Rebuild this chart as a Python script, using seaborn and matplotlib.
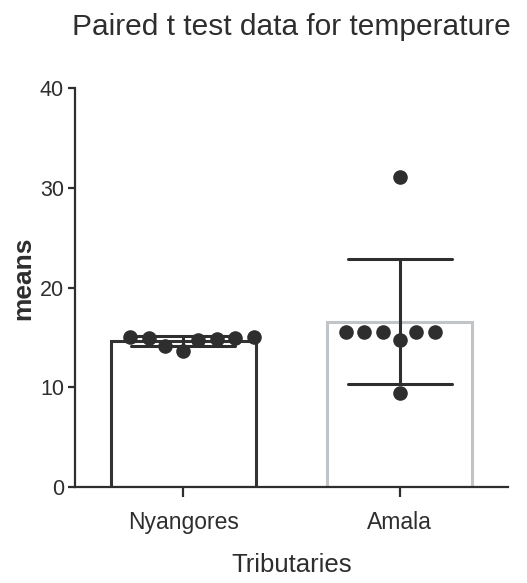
import matplotlib
matplotlib.use("Agg")
import matplotlib.pyplot as plt
import seaborn as sns
import pandas as pd

# values
tributaries = ["Nyangores", "Amala"]
nyangores = [15.0, 14.9, 14.7, 13.6, 14.1, 14.8, 14.9, 15.0]
amala = [31.1, 15.5, 15.5, 15.5, 14.7, 15.5, 15.5, 9.4]
edge_colors = ["#333333", "#c2c5c8"]

df = pd.DataFrame({
    "Tributaries": [tributaries[0]] * len(nyangores) + [tributaries[1]] * len(amala),
    "means": nyangores + amala,
})

sns.set_style("ticks")
plt.rcParams["font.family"] = ["Liberation Sans", "DejaVu Sans"]
ink = "#2e2e2e"

fig = plt.figure(figsize=(5.27, 5.83), dpi=100)
ax = fig.add_axes([0.1423, 0.1647, 0.8217, 0.6843])

sns.barplot(data=df, x="Tributaries", y="means", order=tributaries,
            errorbar="sd", capsize=0.48, width=0.67, color="white",
            err_kws={"linewidth": 2.2, "color": ink}, ax=ax)
for patch, ec in zip(ax.patches, edge_colors):
    patch.set_facecolor("white")
    patch.set_edgecolor(ec)
    patch.set_linewidth(2.2)

# transparent edge only widens the swarm spacing
sns.swarmplot(data=df, x="Tributaries", y="means", order=tributaries,
              color=ink, size=10.5, linewidth=2.3, edgecolor=(0, 0, 0, 0), ax=ax)

ax.set_xlim(-0.5, 1.5)
ax.set_ylim(0, 40)
ax.set_yticks([0, 10, 20, 30, 40])

sns.despine(ax=ax)
for side in ["left", "bottom"]:
    ax.spines[side].set_color(ink)
    ax.spines[side].set_linewidth(1.6)

ax.tick_params(axis="y", length=5, width=1.6, color=ink, labelsize=15.5,
               labelcolor=ink, pad=3)
ax.tick_params(axis="x", length=7, width=1.6, color=ink, labelsize=16.5,
               labelcolor=ink, pad=10)

ax.set_title("Paired t test data for temperature", fontsize=21.5, color=ink,
             pad=38)
ax.set_xlabel("Tributaries", fontsize=18.5, color=ink, labelpad=14)
ax.set_ylabel("means", fontsize=19, color=ink, fontweight="bold")
ax.yaxis.set_label_coords(-0.092, 0.524)

fig.savefig("out.png", dpi=100)
